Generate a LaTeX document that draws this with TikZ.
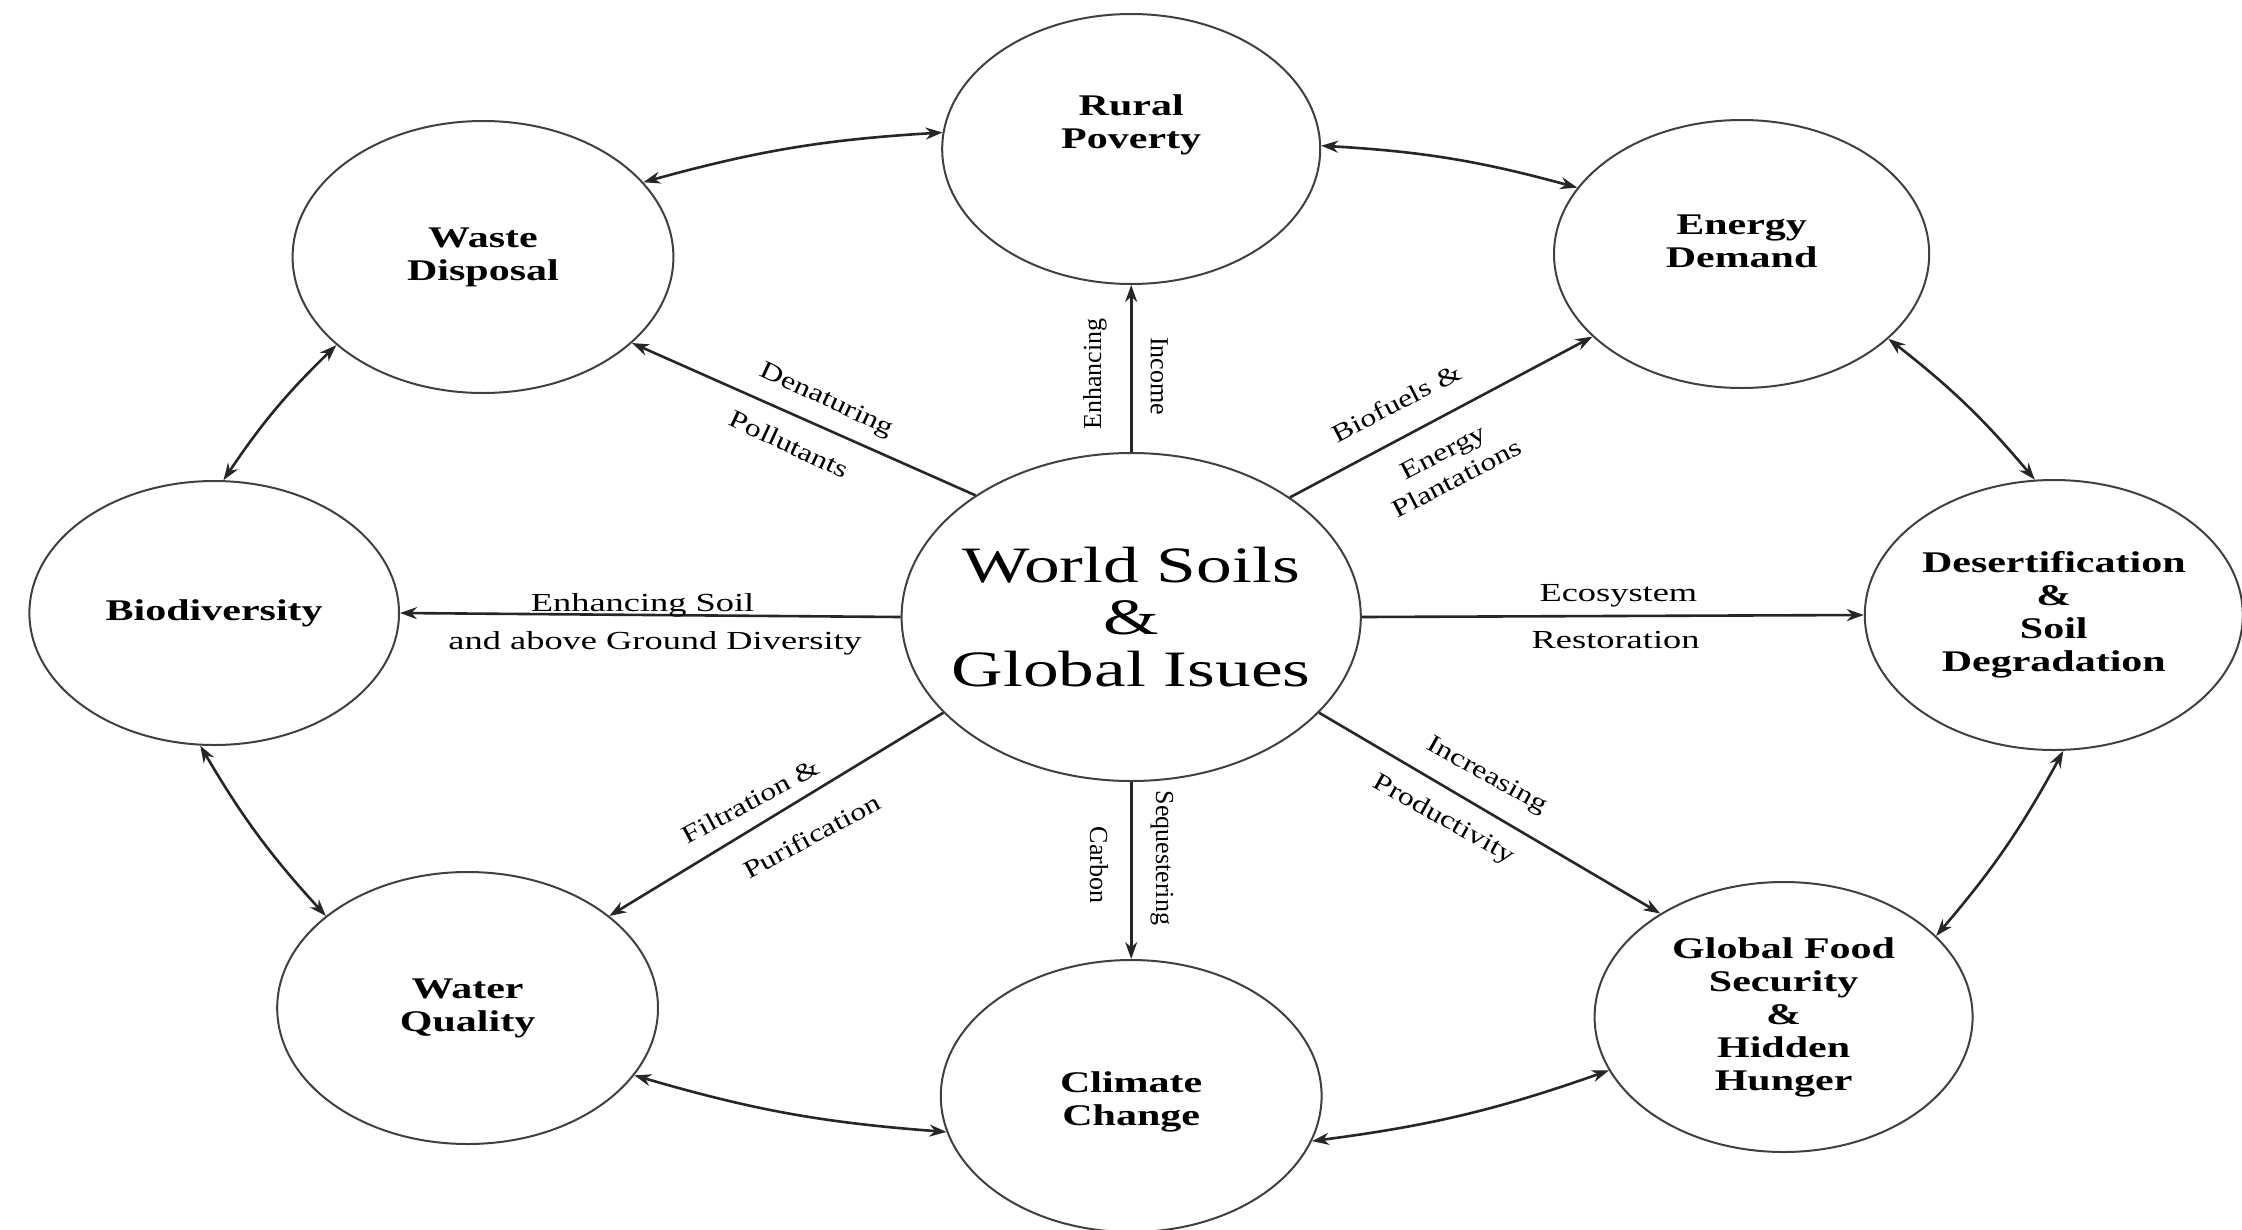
\documentclass[tikz,border=0pt]{standalone}
\usepackage{fontspec}
\setmainfont{Liberation Serif}
\newfontfamily\widefont{Liberation Serif}[FakeStretch=1.4]
\newfontfamily\diagfont{Liberation Serif}[FakeStretch=1.28]
\usetikzlibrary{arrows.meta,shapes.geometric}
\begin{document}
\begin{tikzpicture}[x=1.4pt,y=-1pt,
  issue/.style={ellipse, draw=black!75, line width=2pt, inner sep=0pt, align=center,
    minimum width=380.8pt, minimum height=272pt, font=\widefont\bfseries\fontsize{30}{33}\selectfont},
  nodetext/.style={font=\widefont\bfseries\fontsize{30}{33}\selectfont, align=center},
  link/.style={line width=2.6pt, draw=black!85, -{Stealth[length=17pt,width=12pt]}},
  ring/.style={line width=2.6pt, draw=black!85,
    {Stealth[length=17pt,width=12pt]}-{Stealth[length=17pt,width=12pt]}},
  lbl/.style={font=\widefont\fontsize{26}{30}\selectfont, inner sep=0pt, align=center},
  dlbl/.style={font=\diagfont\fontsize{25}{30}\selectfont, inner sep=0pt, align=center},
  vlbl/.style={font=\fontsize{26}{30}\selectfont, inner sep=0pt, align=center}]
\fill[white] (0,0) rectangle (1601.43,1229);
\useasboundingbox (0,0) rectangle (1601.43,1229);

% nodes
\node[issue, minimum width=459.2pt, minimum height=328pt,
  label={[font=\widefont\fontsize{51}{52}\selectfont, align=center]center:World Soils\\\&\\Global Isues}] (C) at (808,617) {};
\node[issue, minimum width=378pt, minimum height=270pt, label={[nodetext, yshift=24pt]center:Rural\\Poverty}] (R) at (808,149) {};
\node[issue] (W) at (345,257) {Waste\\Disposal};
\node[issue, minimum width=375.2pt, minimum height=268pt, label={[nodetext, yshift=13pt]center:Energy\\Demand}] (E) at (1244,254) {};
\node[issue, minimum width=369.6pt, minimum height=264pt] (B) at (153,613) {Biodiversity};
\node[issue, minimum width=378pt, minimum height=270pt] (D) at (1467,615) {Desertification\\\&\\Soil\\Degradation};
\node[issue] (Q) at (334,1008) {Water\\Quality};
\node[issue, label={[nodetext, yshift=-6pt]center:Climate\\Change}] (K) at (808,1096) {};
\node[issue, minimum width=378pt, minimum height=270pt] (G) at (1274,1017) {Global Food\\Security\\\&\\Hidden\\Hunger};

% center links
\draw[link] (C.90) -- (R.270);
\draw[link] (C.142.5) -- (W.330.8);
\draw[link] (C.37.2) -- (E.209.1);
\draw[link] (C.0) -- (D.180);
\draw[link] (C.180) -- (B.0);
\draw[link] (C.207.4) -- (Q.33.3);
\draw[link] (C.270) -- (K.90);
\draw[link] (C.333.2) -- (G.140);

% ring links
\draw[ring] (W.25.7) to[bend left=6] (R.175);
\draw[ring] (R.1.4) to[bend left=6] (E.158.8);
\draw[ring] (E.330.8) to[bend left=6] (D.98.4);
\draw[ring] (D.274.9) to[bend left=6] (G.28.8);
\draw[ring] (G.197.6) to[bend left=6] (K.346.7);
\draw[ring] (K.191.6) to[bend left=6] (Q.338.4);
\draw[ring] (Q.147) to[bend left=6] (B.264.4);
\draw[ring] (B.86.6) to[bend left=6] (W.211.6);

% labels
\node[vlbl, rotate=90] (l1) at (782,374) {Enhancing};
\node[vlbl, rotate=-90] (l2) at (828,376) {Income};
\node[vlbl, rotate=-90] (l3) at (830,858) {Sequestering};
\node[vlbl, rotate=-90] (l4) at (785,865) {Carbon};
\node[dlbl, rotate=-25] (l5) at (590.4,400.8) {Denaturing};
\node[dlbl, rotate=-25] (l6) at (563.6,444.2) {Pollutants};
\node[dlbl, rotate=27.4] (l7) at (997.4,402.9) {Biofuels \&};
\node[dlbl, rotate=27.4] (l8) at (1035.6,465.1) {Energy\\Plantations};
\node[lbl] (l9) at (1156,596) {Ecosystem};
\node[lbl] (l10) at (1154,640) {Restoration};
\node[lbl] (l11) at (459,605) {Enhancing Soil};
\node[lbl] (l12) at (468,643) {and above Ground Diversity};
\node[dlbl, rotate=28.3] (l13) at (536.3,801) {Filtration \&};
\node[dlbl, rotate=28.3] (l14) at (579.7,836) {Purification};
\node[dlbl, rotate=-29.2] (l15) at (1061.8,776) {Increasing};
\node[dlbl, rotate=-29.2] (l16) at (1031.2,820) {Productivity};
\end{tikzpicture}
\end{document}
